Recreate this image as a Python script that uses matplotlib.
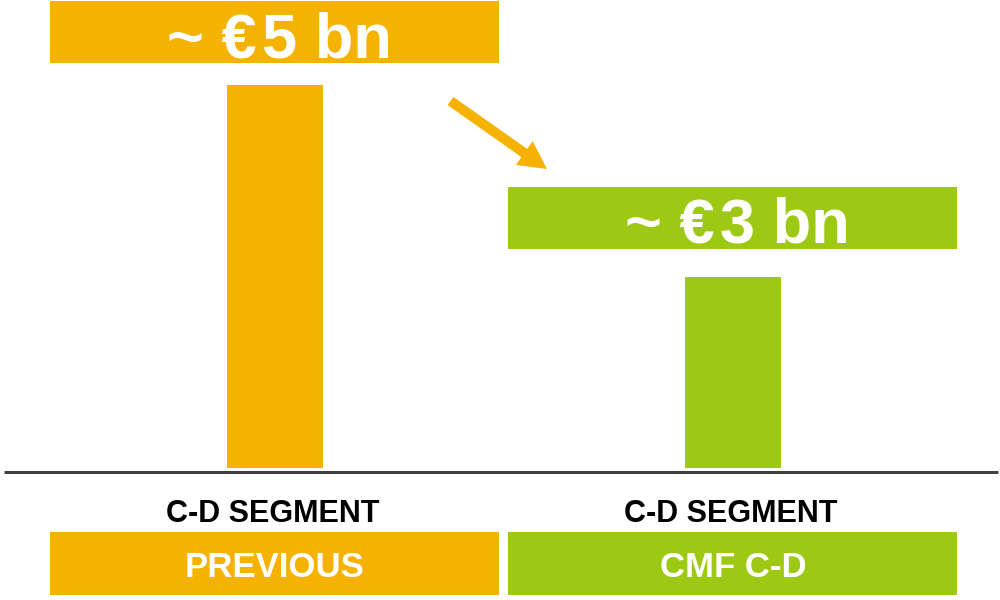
import matplotlib
matplotlib.use("Agg")
import matplotlib.pyplot as plt
from matplotlib.patches import Rectangle, FancyArrowPatch
from matplotlib.lines import Line2D
import matplotlib.transforms as mtransforms

# ---- data ----
categories = ["PREVIOUS", "CMF C-D"]
segment_labels = ["C-D SEGMENT", "C-D SEGMENT"]
values = [5.0, 2.5]
value_labels = ["~ €\u200a5 bn", "~ €\u200a3 bn"]
colors = ["#F6B200", "#9DC814"]

plt.rcParams['font.family'] = ['Liberation Sans', 'DejaVu Sans']

DPI = 100
fig = plt.figure(figsize=(10, 6), dpi=DPI)
# axes: baseline at 468 px from top
ax = fig.add_axes([0, (600 - 468) / 600, 1, 468 / 600])
ax.set_xlim(-0.6, 1.583)
ax.set_ylim(0, 5 * 468 / 383)
ax.axis("off")

x = list(range(len(categories)))
ax.bar(x, values, width=0.21, color=colors, zorder=2)

# data units per pixel
px_y = (5 * 468 / 383) / 468
box_w = 0.98

# baseline
off = mtransforms.ScaledTranslation(0, -3.5 / DPI, fig.dpi_scale_trans)
base = Line2D([0.004, 0.998], [0, 0], color="#404040", lw=3 * 72 / DPI,
              zorder=3, solid_capstyle="butt", clip_on=False)
base.set_transform(mtransforms.blended_transform_factory(ax.transAxes, ax.transData) + off)
ax.add_line(base)

trans_bottom = mtransforms.blended_transform_factory(ax.transData, fig.transFigure)
gaps_px = [22, 28]  # layout: gap between bar top and its label box

for xi, v, lab, col, cat, seg, gp in zip(x, values, value_labels, colors,
                                         categories, segment_labels, gaps_px):
    # value label box above bar
    gap = gp * px_y
    h = 62 * px_y
    ax.add_patch(Rectangle((xi - box_w / 2, v + gap), box_w, h, facecolor=col,
                           edgecolor="none", clip_on=False, zorder=2))
    ax.text(xi + 0.01, v + gap + 6 * px_y, lab, ha="center", va="baseline", color="white",
            fontsize=45.5, fontweight="bold", zorder=4)
    # category box below
    ax.add_patch(Rectangle((xi - box_w / 2, (600 - 595) / 600), box_w, 63 / 600,
                           facecolor=col, edgecolor="none", transform=trans_bottom,
                           clip_on=False, zorder=2))
    ax.text(xi, (600 - 577) / 600, cat, ha="center", va="baseline", color="white",
            fontsize=25, fontweight="bold", transform=trans_bottom, zorder=4)
    ax.text(xi - 0.005, (600 - 522) / 600, seg, ha="center", va="baseline", color="black",
            fontsize=22, fontweight="bold", transform=trans_bottom, zorder=4)

# arrow (decoration) in figure pixel coordinates
def fpx(px, py):
    return (px / 1000, 1 - py / 600)

arrow = FancyArrowPatch(fpx(450.5, 101), fpx(547, 169), transform=fig.transFigure,
                        arrowstyle="simple,tail_width=7.2,head_width=21,head_length=20",
                        mutation_scale=1, color=colors[0], linewidth=0,
                        shrinkA=0, shrinkB=0)
fig.patches.append(arrow)

fig.savefig("out.png", dpi=DPI)
